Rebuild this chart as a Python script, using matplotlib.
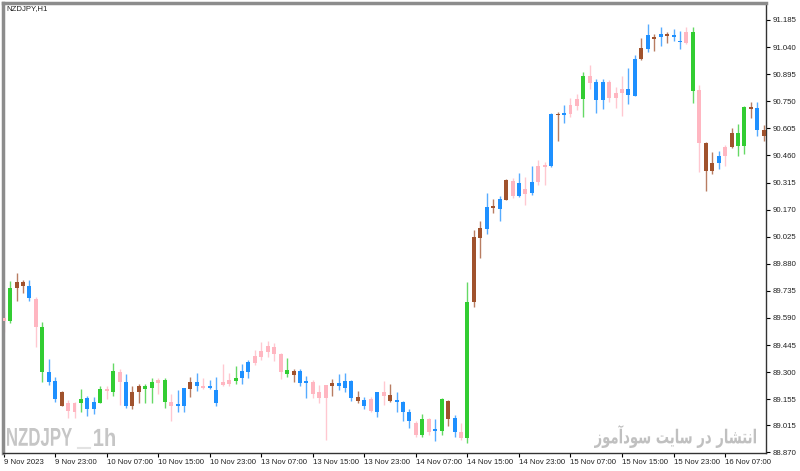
import matplotlib
matplotlib.use('Agg')
import matplotlib.pyplot as plt
from matplotlib import font_manager
from matplotlib.textpath import TextPath
from matplotlib.patches import PathPatch
from matplotlib.font_manager import FontProperties
import matplotlib.transforms as mtransforms

# NZDJPY H1 candles
opens = [89.592, 89.576, 89.752, 89.784, 89.763, 89.693, 89.543, 89.303, 89.255, 89.191,
         89.132, 89.089, 89.137, 89.164, 89.100, 89.137, 89.212, 89.196, 89.303, 89.249,
         89.121, 89.191, 89.228, 89.217, 89.244, 89.260, 89.142, 89.121, 89.116, 89.212,
         89.249, 89.228, 89.217, 89.206, 89.233, 89.239, 89.255, 89.271, 89.303, 89.351,
         89.383, 89.410, 89.437, 89.399, 89.292, 89.308, 89.308, 89.244, 89.249, 89.191,
         89.164, 89.223, 89.228, 89.217, 89.255, 89.169, 89.153, 89.158, 89.089, 89.196,
         89.180, 89.148, 89.142, 89.084, 89.025, 88.966, 89.051, 88.987, 88.987, 89.148,
         89.057, 88.977, 88.945, 89.677, 90.019, 90.068, 90.185, 90.174, 90.223, 90.324,
         90.244, 90.281, 90.260, 90.319, 90.399, 90.404, 90.682, 90.677, 90.682, 90.725,
         90.763, 90.886, 90.853, 90.757, 90.853, 90.768, 90.795, 90.784, 90.779, 90.976,
         91.030, 91.094, 91.094, 91.110, 91.094, 91.073, 91.062, 91.121, 90.811, 90.527,
         90.378, 90.420, 90.458, 90.506, 90.581, 90.511, 90.720, 90.714, 90.597]
closes = [89.576, 89.752, 89.784, 89.763, 89.699, 89.543, 89.298, 89.249, 89.158, 89.121,
          89.094, 89.137, 89.158, 89.100, 89.142, 89.212, 89.201, 89.308, 89.249, 89.121,
          89.191, 89.228, 89.212, 89.249, 89.260, 89.142, 89.121, 89.126, 89.217, 89.249,
          89.228, 89.217, 89.228, 89.132, 89.249, 89.260, 89.271, 89.308, 89.356, 89.388,
          89.415, 89.442, 89.399, 89.303, 89.313, 89.287, 89.244, 89.249, 89.185, 89.164,
          89.233, 89.244, 89.244, 89.255, 89.164, 89.148, 89.121, 89.094, 89.196, 89.174,
          89.148, 89.142, 89.084, 89.036, 88.966, 89.051, 88.982, 88.998, 89.158, 89.051,
          88.977, 88.945, 89.677, 90.025, 90.073, 90.185, 90.180, 90.228, 90.329, 90.244,
          90.313, 90.255, 90.319, 90.404, 90.410, 90.682, 90.677, 90.688, 90.730, 90.763,
          90.886, 90.848, 90.757, 90.853, 90.768, 90.795, 90.816, 90.816, 90.976, 91.035,
          91.105, 91.083, 91.110, 91.099, 91.105, 91.067, 91.121, 90.805, 90.527, 90.378,
          90.420, 90.458, 90.506, 90.581, 90.511, 90.720, 90.709, 90.597, 90.565]
highs = [89.624, 89.789, 89.832, 89.795, 89.795, 89.704, 89.570, 89.372, 89.276, 89.201,
         89.153, 89.142, 89.212, 89.174, 89.169, 89.223, 89.228, 89.351, 89.319, 89.292,
         89.228, 89.239, 89.239, 89.271, 89.271, 89.271, 89.185, 89.206, 89.217, 89.276,
         89.297, 89.271, 89.260, 89.276, 89.346, 89.297, 89.335, 89.346, 89.367, 89.420,
         89.463, 89.468, 89.458, 89.404, 89.378, 89.319, 89.319, 89.281, 89.260, 89.233,
         89.233, 89.265, 89.292, 89.297, 89.260, 89.201, 89.169, 89.169, 89.196, 89.255,
         89.239, 89.196, 89.148, 89.100, 89.036, 89.078, 89.057, 89.051, 89.164, 89.153,
         89.073, 89.030, 89.784, 90.062, 90.110, 90.260, 90.228, 90.244, 90.335, 90.340,
         90.367, 90.346, 90.404, 90.436, 90.426, 90.688, 90.693, 90.730, 90.768, 90.789,
         90.907, 90.944, 90.869, 90.869, 90.864, 90.827, 90.886, 90.928, 90.998, 91.089,
         91.164, 91.110, 91.148, 91.121, 91.137, 91.126, 91.148, 91.148, 90.837, 90.533,
         90.479, 90.484, 90.517, 90.607, 90.629, 90.725, 90.747, 90.747, 90.623]
lows = [89.517, 89.565, 89.683, 89.725, 89.683, 89.437, 89.249, 89.233, 89.142, 89.116,
        89.057, 89.057, 89.084, 89.067, 89.078, 89.132, 89.158, 89.174, 89.126, 89.110,
        89.105, 89.137, 89.137, 89.132, 89.185, 89.110, 89.036, 89.084, 89.084, 89.169,
        89.201, 89.212, 89.212, 89.121, 89.223, 89.223, 89.239, 89.239, 89.271, 89.340,
        89.367, 89.383, 89.362, 89.265, 89.276, 89.249, 89.228, 89.164, 89.164, 89.137,
        88.934, 89.174, 89.206, 89.196, 89.148, 89.132, 89.105, 89.084, 89.062, 89.126,
        89.142, 89.089, 89.036, 89.003, 88.955, 88.955, 88.961, 88.929, 88.961, 89.009,
        88.950, 88.939, 88.923, 89.650, 89.913, 90.041, 90.153, 90.110, 90.223, 90.233,
        90.239, 90.196, 90.249, 90.303, 90.303, 90.399, 90.538, 90.634, 90.666, 90.704,
        90.666, 90.816, 90.688, 90.709, 90.747, 90.714, 90.672, 90.736, 90.779, 90.971,
        91.014, 91.019, 91.046, 91.062, 91.073, 91.030, 91.057, 90.741, 90.372, 90.271,
        90.362, 90.388, 90.404, 90.501, 90.458, 90.469, 90.661, 90.565, 90.538]
# colour group of every candle: g=green b=blue p=pink r=brown
groups = ("pgrrbpgbbr" "ppgbbgpgpb" "rrggpgpbbr" "bpbbppgbbp" "ppppgrbbpp"
          "prbbbrbpbp" "rbbbpgpbgr" "bpgrrbrbrp" "bpbppbrbpp" "gpbbpppbbr"
          "brbrbbpgpr" "rbprggrbr")

ytick_vals = [91.185, 91.040, 90.895, 90.750, 90.605, 90.460, 90.315, 90.170, 90.025,
              89.880, 89.735, 89.590, 89.445, 89.300, 89.155, 89.015, 88.870]
xtick_bars = [0, 8, 16, 24, 32, 40, 48, 56, 64, 72, 80, 88, 96, 104, 112]
xtick_labels = ['9 Nov 2023', '9 Nov 23:00', '10 Nov 07:00', '10 Nov 15:00', '10 Nov 23:00',
                '13 Nov 07:00', '13 Nov 15:00', '13 Nov 23:00', '14 Nov 07:00', '14 Nov 15:00',
                '14 Nov 23:00', '15 Nov 07:00', '15 Nov 15:00', '15 Nov 23:00', '16 Nov 07:00']

colmap = {'g': '#32CD32', 'b': '#1E90FF', 'p': '#FFB6C1', 'r': '#A0522D'}

names = {f.name for f in font_manager.fontManager.ttflist}
small_font = 'Liberation Sans' if 'Liberation Sans' in names else 'DejaVu Sans'

fig = plt.figure(figsize=(8, 4.71), dpi=100)
ax = fig.add_axes([3/800, 18/471, 763/800, 450/471])

idx = list(range(len(opens)))
cols = [colmap[c] for c in groups]
ax.vlines(idx, lows, highs, colors=cols, linewidth=1.0, alpha=0.75, zorder=2)
bottoms = [min(o, c) for o, c in zip(opens, closes)]
heights = [max(abs(c - o), 0.007) for o, c in zip(opens, closes)]
ax.bar(idx, heights, bottom=bottoms, width=0.62, color=cols, linewidth=0, zorder=3)

ax.set_xlim(-0.1, 118.35)
ax.set_ylim(88.867, 91.276)

ax.yaxis.tick_right()
ax.set_yticks(ytick_vals)
ax.set_yticklabels(['%.3f' % v for v in ytick_vals])
ax.set_xticks(xtick_bars)
ax.set_xticklabels(xtick_labels, ha='left')
ax.tick_params(axis='y', length=3, width=0.8, pad=2, labelsize=5.6, colors='black')
ax.tick_params(axis='x', length=3, width=0.8, pad=1.5, labelsize=5.6, colors='black')
for lab in ax.get_xticklabels() + ax.get_yticklabels():
    lab.set_fontfamily(small_font)
    lab.set_color('#222222')

for s in ['left', 'top']:
    ax.spines[s].set_color('#8c8c8c')
    ax.spines[s].set_linewidth(2.5)
for s in ['right', 'bottom']:
    ax.spines[s].set_color('#333333')
    ax.spines[s].set_linewidth(1.0)

fig.text(6/800, 1 - 9/471, 'NZDJPY,H1', fontsize=5.6, family=small_font,
         color='#222222', va='center', ha='left')


def fitted_text(s, x0, x1, ytop, ybot, color, prop):
    # draw text as a path squeezed into a pixel box (y measured from the top)
    tp = TextPath((0, 0), s, size=10, prop=prop)
    bb = tp.get_extents()
    h = 471
    tr = (mtransforms.Affine2D().translate(-bb.x0, -bb.y0)
          .scale((x1 - x0) / bb.width, (ybot - ytop) / bb.height)
          .translate(x0, h - ybot))
    fig.add_artist(PathPatch(tp, transform=tr, facecolor=color, edgecolor='none'))


wm = FontProperties(family=small_font, weight='bold')
fitted_text('NZDJPY', 7, 72, 428, 446, '#c6c6c6', wm)
fitted_text('1h', 94, 115, 428, 446, '#c6c6c6', wm)
fig.add_artist(plt.Line2D([78, 90], [471 - 448, 471 - 448], transform=None,
                          color='#e2e2e2', linewidth=1.5))

# Persian note, written with Arabic presentation forms in visual order
# because matplotlib does no Arabic shaping: "انتشار در سایت سودآموز"
persian = ('\uFEAF\uFEEE\uFEE3\uFE81\uFEA9\uFEEE\uFEB3' + ' ' +
           '\uFE96\uFEF3\uFE8E\uFEB3' + ' ' +
           '\uFEAD\uFEA9' + ' ' +
           '\uFEAD\uFE8E\uFEB8\uFE98\uFEE7\uFE8D')
fitted_text(persian, 594, 756, 425, 448, '#c0c0c0',
            FontProperties(family='DejaVu Sans', weight='bold'))

fig.savefig('out.png', dpi=100, facecolor='white')
